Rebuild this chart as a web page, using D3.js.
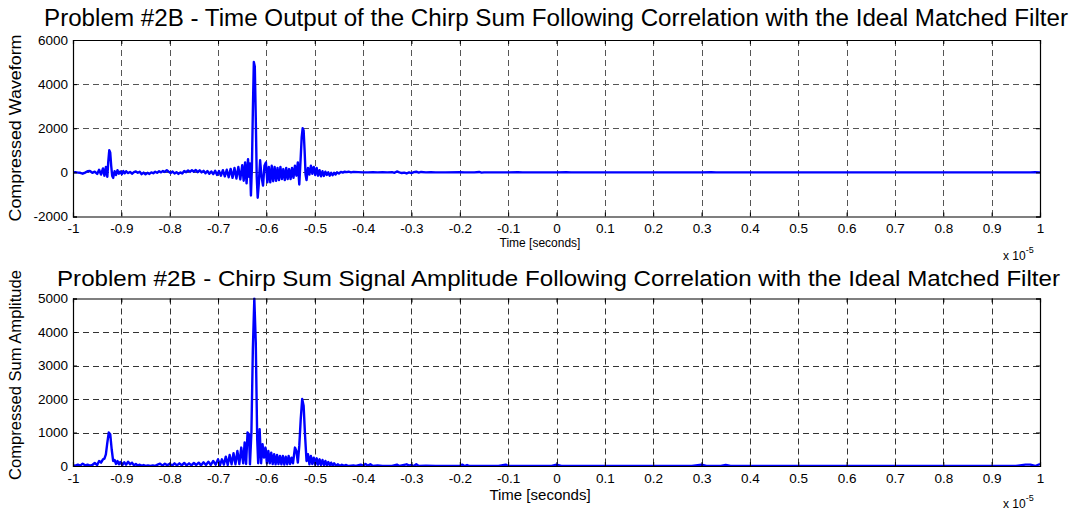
<!DOCTYPE html>
<html><head><meta charset="utf-8">
<script src="https://cdn.jsdelivr.net/npm/d3@7/dist/d3.min.js"></script>
<style>body{margin:0;background:#fff}svg{display:block;font-family:Arial,"Liberation Sans",sans-serif}</style>
</head><body><svg id="c" width="1073" height="514"></svg>
<script>
const xTicks = [-1,-0.9,-0.8,-0.7,-0.6,-0.5,-0.4,-0.3,-0.2,-0.1,0,0.1,0.2,0.3,0.4,0.5,0.6,0.7,0.8,0.9,1];
const yTicksTop = [-2000,0,2000,4000,6000];
const yTicksBottom = [0,1000,2000,3000,4000,5000];
const titleTop = "Problem #2B - Time Output of the Chirp Sum Following Correlation with the Ideal Matched Filter";
const titleBottom = "Problem #2B - Chirp Sum Signal Amplitude Following Correlation with the Ideal Matched Filter";
const yLabelTop = "Compressed Waveform";
const yLabelBottom = "Compressed Sum Amplitude";
const xLabel = "Time [seconds]";

// time (x 1e-5 s), compressed waveform
const waveform = [[-1,0],[-0.995,10],[-0.99,-10],[-0.985,-20],[-0.98,-60],[-0.975,-10],[-0.97,50],[-0.965,60],[-0.96,-20],[-0.955,30],[-0.95,-70],[-0.946,120],[-0.942,-100],[-0.938,180],[-0.935,-150],[-0.932,250],[-0.929,-200],[-0.927,500],[-0.925,1000],[-0.923,900],[-0.921,300],[-0.919,-150],[-0.917,-250],[-0.914,50],[-0.911,-120],[-0.908,100],[-0.905,-60],[-0.902,40],[-0.899,-80],[-0.896,60],[-0.893,-40],[-0.89,50],[-0.886,-30],[-0.882,20],[-0.878,-60],[-0.874,10],[-0.87,40],[-0.866,-20],[-0.862,30],[-0.858,-80],[-0.854,-10],[-0.85,-90],[-0.846,-20],[-0.842,-70],[-0.838,0],[-0.834,-40],[-0.83,30],[-0.826,-20],[-0.822,50],[-0.818,0],[-0.814,60],[-0.81,20],[-0.806,100],[-0.802,30],[-0.798,-30],[-0.794,40],[-0.79,-50],[-0.786,10],[-0.782,-70],[-0.778,0],[-0.774,-50],[-0.77,60],[-0.766,10],[-0.762,90],[-0.758,20],[-0.754,100],[-0.75,30],[-0.746,110],[-0.742,10],[-0.738,90],[-0.734,0],[-0.73,70],[-0.726,-40],[-0.722,60],[-0.718,-60],[-0.714,40],[-0.71,-80],[-0.706,70],[-0.702,-120],[-0.698,60],[-0.694,-150],[-0.69,100],[-0.686,-180],[-0.682,120],[-0.678,-220],[-0.674,160],[-0.67,-250],[-0.666,200],[-0.662,-280],[-0.658,250],[-0.654,-320],[-0.65,330],[-0.647,-380],[-0.644,450],[-0.641,-500],[-0.638,600],[-0.636,-200],[-0.634,400],[-0.632,-1050],[-0.63,200],[-0.628,2800],[-0.626,5000],[-0.624,4800],[-0.622,2500],[-0.62,-200],[-0.618,-1150],[-0.616,-600],[-0.613,550],[-0.61,-200],[-0.607,-600],[-0.604,300],[-0.601,450],[-0.598,-450],[-0.595,250],[-0.592,-450],[-0.589,300],[-0.586,-400],[-0.583,250],[-0.58,-380],[-0.577,200],[-0.574,-350],[-0.571,250],[-0.568,-300],[-0.565,150],[-0.562,-350],[-0.559,200],[-0.556,-300],[-0.553,150],[-0.55,-300],[-0.547,200],[-0.544,-250],[-0.541,300],[-0.538,-150],[-0.535,450],[-0.532,-550],[-0.529,700],[-0.527,1600],[-0.525,2000],[-0.523,1900],[-0.521,1000],[-0.519,-100],[-0.517,-350],[-0.514,200],[-0.511,-100],[-0.508,300],[-0.505,-60],[-0.502,250],[-0.499,-120],[-0.496,200],[-0.493,-150],[-0.49,100],[-0.487,-180],[-0.484,50],[-0.481,-160],[-0.478,30],[-0.475,-120],[-0.472,0],[-0.469,-150],[-0.466,-20],[-0.463,-130],[-0.46,-20],[-0.457,-100],[-0.454,0],[-0.45,-50],[-0.446,20],[-0.442,-10],[-0.438,30],[-0.434,10],[-0.43,30],[-0.425,0],[-0.42,20],[-0.41,10],[-0.4,0],[-0.39,0],[-0.38,10],[-0.37,0],[-0.36,5],[-0.35,0],[-0.34,10],[-0.335,-20],[-0.33,40],[-0.325,0],[-0.32,-30],[-0.315,-10],[-0.31,-50],[-0.305,0],[-0.3,-30],[-0.295,10],[-0.29,30],[-0.285,-10],[-0.28,20],[-0.27,0],[-0.26,10],[-0.25,0],[-0.23,0],[-0.2,10],[-0.19,0],[-0.17,0],[-0.16,20],[-0.155,-10],[-0.15,0],[-0.1,0],[-0.08,10],[-0.07,0],[0,0],[0.02,10],[0.03,0],[0.2,0],[0.3,0],[0.32,10],[0.33,0],[0.6,0],[0.98,0],[0.99,10],[1,0]];

// time (x 1e-5 s), compressed sum amplitude
const amplitude = [[-1,20],[-0.995,10],[-0.99,40],[-0.985,10],[-0.98,70],[-0.975,20],[-0.97,40],[-0.965,10],[-0.96,30],[-0.955,90],[-0.95,30],[-0.946,150],[-0.942,100],[-0.938,200],[-0.935,220],[-0.932,350],[-0.929,700],[-0.926,1000],[-0.923,950],[-0.92,500],[-0.917,150],[-0.914,180],[-0.911,60],[-0.908,150],[-0.905,50],[-0.902,120],[-0.898,30],[-0.894,110],[-0.89,40],[-0.886,130],[-0.882,50],[-0.878,100],[-0.874,20],[-0.87,60],[-0.866,10],[-0.862,40],[-0.858,5],[-0.854,30],[-0.85,5],[-0.845,20],[-0.84,5],[-0.835,20],[-0.83,5],[-0.825,40],[-0.82,70],[-0.815,10],[-0.81,70],[-0.805,20],[-0.8,70],[-0.795,10],[-0.79,80],[-0.785,20],[-0.78,80],[-0.775,20],[-0.77,90],[-0.765,20],[-0.76,80],[-0.755,20],[-0.75,90],[-0.745,30],[-0.74,100],[-0.735,20],[-0.73,110],[-0.725,30],[-0.72,130],[-0.715,30],[-0.71,150],[-0.705,40],[-0.7,200],[-0.696,30],[-0.692,200],[-0.688,40],[-0.684,280],[-0.68,30],[-0.676,330],[-0.672,50],[-0.668,380],[-0.664,50],[-0.66,450],[-0.656,60],[-0.652,550],[-0.648,80],[-0.645,700],[-0.642,60],[-0.639,1000],[-0.636,950],[-0.634,50],[-0.631,1000],[-0.628,3500],[-0.625,5000],[-0.622,3700],[-0.619,800],[-0.617,80],[-0.614,1100],[-0.611,80],[-0.608,650],[-0.605,250],[-0.602,550],[-0.599,80],[-0.596,450],[-0.593,80],[-0.59,400],[-0.587,60],[-0.584,350],[-0.581,50],[-0.578,330],[-0.575,60],[-0.572,300],[-0.569,50],[-0.566,300],[-0.563,40],[-0.56,280],[-0.557,50],[-0.554,300],[-0.551,60],[-0.548,250],[-0.545,80],[-0.541,550],[-0.538,450],[-0.535,100],[-0.532,600],[-0.529,1400],[-0.526,2000],[-0.523,1800],[-0.52,900],[-0.517,150],[-0.514,350],[-0.511,50],[-0.508,300],[-0.505,60],[-0.502,250],[-0.499,40],[-0.496,230],[-0.493,40],[-0.49,200],[-0.487,30],[-0.484,180],[-0.481,30],[-0.478,150],[-0.475,20],[-0.472,120],[-0.469,20],[-0.466,100],[-0.463,10],[-0.46,80],[-0.456,10],[-0.452,50],[-0.448,0],[-0.444,40],[-0.44,5],[-0.435,30],[-0.43,0],[-0.42,20],[-0.415,0],[-0.405,40],[-0.4,10],[-0.395,60],[-0.39,10],[-0.385,50],[-0.38,0],[-0.37,20],[-0.36,0],[-0.34,0],[-0.33,40],[-0.325,0],[-0.31,50],[-0.305,10],[-0.3,30],[-0.295,0],[-0.29,50],[-0.285,0],[-0.27,10],[-0.25,0],[-0.2,0],[-0.195,40],[-0.19,0],[-0.185,30],[-0.18,0],[-0.12,0],[-0.105,40],[-0.1,0],[-0.01,0],[0,40],[0.01,0],[0.28,0],[0.3,40],[0.31,0],[0.34,0],[0.35,30],[0.36,0],[0.95,0],[0.97,40],[0.98,40],[0.99,0],[1,60]];

const svg = d3.select("#c");
const X0 = 73, X1 = 1040;

function panel(cfg){
  const x = d3.scaleLinear().domain([-1,1]).range([X0,X1]);
  const y = d3.scaleLinear().domain(cfg.ydomain).range([cfg.bottom, cfg.top]);
  const g = svg.append("g");
  const clipId = "clip" + cfg.id;
  svg.append("clipPath").attr("id", clipId).append("rect")
    .attr("x", X0).attr("y", cfg.top - 1).attr("width", X1 - X0).attr("height", cfg.bottom - cfg.top + 2);
  const grid = g.append("g").attr("stroke", cfg.gridColor).attr("stroke-width", 1).attr("stroke-dasharray", "6,4");
  grid.selectAll(".gx").data(xTicks.slice(1, -1)).join("line")
    .attr("x1", d => Math.round(x(d)) + 0.5).attr("x2", d => Math.round(x(d)) + 0.5)
    .attr("y1", cfg.top).attr("y2", cfg.bottom);
  grid.selectAll(".gy").data(cfg.yticks.slice(1, -1)).join("line")
    .attr("y1", d => Math.round(y(d)) + 0.5).attr("y2", d => Math.round(y(d)) + 0.5)
    .attr("x1", X0).attr("x2", X1);
  g.append("path").datum(cfg.data)
    .attr("clip-path", `url(#${clipId})`)
    .attr("fill", "none").attr("stroke", "#0000ff").attr("stroke-width", 2.4).attr("stroke-linejoin", "round")
    .attr("d", d3.line().x(d => x(d[0])).y(d => y(d[1])));
  const fmt = d => String(d);
  const ax = g.append("g").attr("transform", `translate(0,${cfg.bottom})`)
    .call(d3.axisBottom(x).tickValues(xTicks).tickSize(-4).tickPadding(7).tickFormat(fmt));
  const axT = g.append("g").attr("transform", `translate(0,${cfg.top})`)
    .call(d3.axisTop(x).tickValues(xTicks).tickSize(-4).tickFormat(""));
  const ayL = g.append("g").attr("transform", `translate(${X0},0)`)
    .call(d3.axisLeft(y).tickValues(cfg.yticks).tickSize(-4).tickPadding(5).tickFormat(fmt));
  const ayR = g.append("g").attr("transform", `translate(${X1},0)`)
    .call(d3.axisRight(y).tickValues(cfg.yticks).tickSize(-4).tickFormat(""));
  [ax, axT, ayL, ayR].forEach(a => {
    a.select(".domain").attr("stroke", "#000").attr("stroke-width", 1.2);
    a.selectAll(".tick line").attr("stroke", "#000");
    a.selectAll("text").attr("fill", "#000").attr("font-size", 13.5).attr("font-family", "Arial, 'Liberation Sans', sans-serif");
  });
  svg.append("text").attr("x", cfg.titleX0).attr("y", cfg.titleY)
    .attr("font-size", cfg.titleSize).attr("fill", "#000")
    .attr("textLength", cfg.titleW).attr("lengthAdjust", "spacingAndGlyphs").text(cfg.title);
  svg.append("text").attr("transform", `translate(21,${cfg.ylabY}) rotate(-90)`)
    .attr("text-anchor", "middle").attr("font-size", 16).attr("fill", "#000")
    .attr("textLength", cfg.ylabW).attr("lengthAdjust", "spacingAndGlyphs").text(cfg.ylabel);
  svg.append("text").attr("x", 540).attr("y", cfg.xlabY).attr("text-anchor", "middle")
    .attr("font-size", cfg.xlabSize).attr("fill", "#000").text(xLabel);
  const e = svg.append("text").attr("x", 1003).attr("y", cfg.expY).attr("font-size", 12).attr("fill", "#000");
  e.append("tspan").text("x 10");
  e.append("tspan").attr("dy", -7).attr("font-size", 9).text("-5");
}

panel({id:1, data: waveform, ydomain:[-2000,6000], yticks: yTicksTop, top:40, bottom:216.5,
  gridColor:"#555", title: titleTop, titleX0:44, titleY:26, titleSize:23, titleW:1024,
  ylabel: yLabelTop, ylabY:128, ylabW:187, xlabY:247, xlabSize:12, expY:260});
panel({id:2, data: amplitude, ydomain:[0,5000], yticks: yTicksBottom, top:298.5, bottom:466,
  gridColor:"#333", title: titleBottom, titleX0:57, titleY:286, titleSize:21.5, titleW:1003,
  ylabel: yLabelBottom, ylabY:375, ylabW:210, xlabY:500, xlabSize:15, expY:508});
</script></body></html>
